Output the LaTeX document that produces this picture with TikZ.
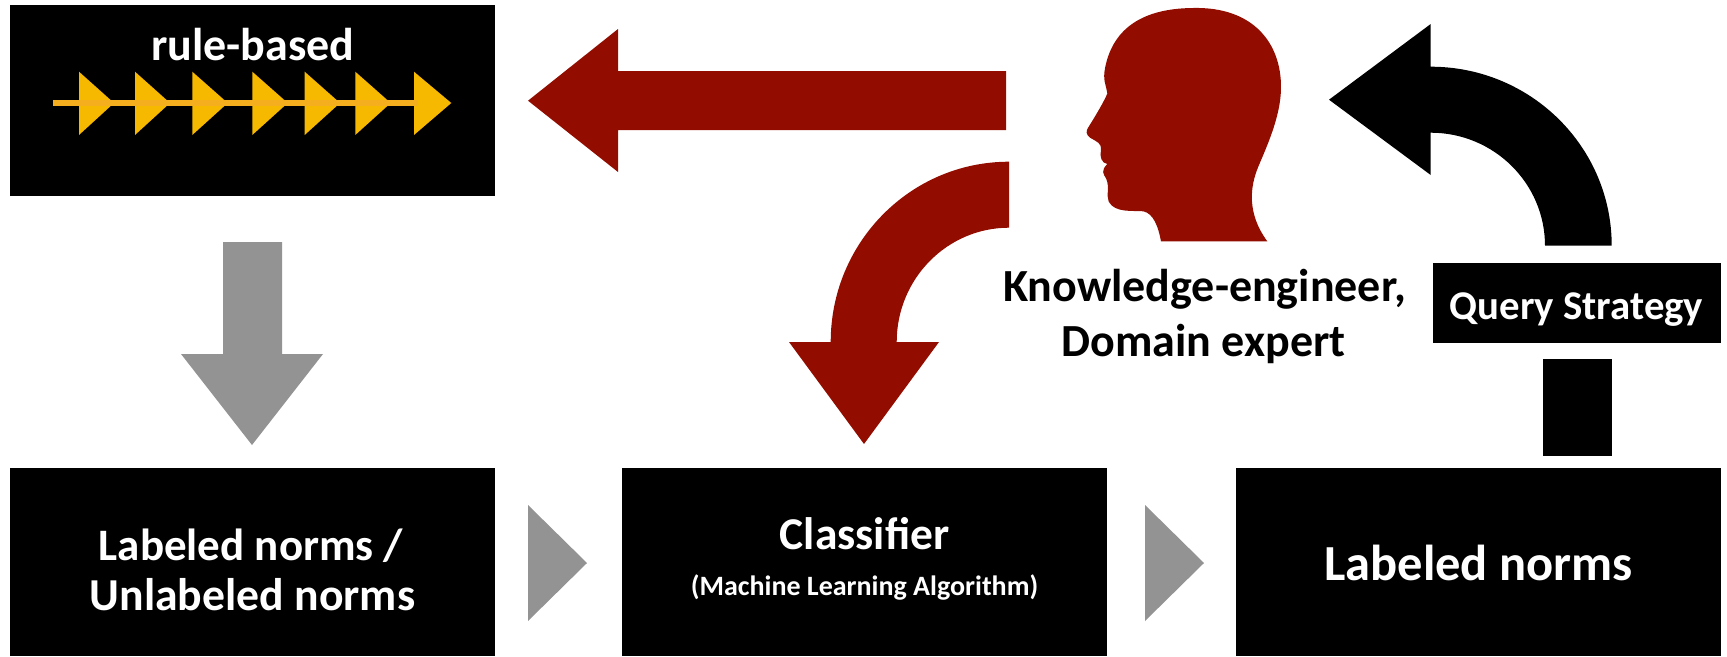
\documentclass[tikz,border=0pt]{standalone}
\usepackage{fontspec}
\setmainfont{Carlito}
\definecolor{expertred}{HTML}{920D00}
\definecolor{flowgrey}{HTML}{939393}
\definecolor{ruleamber}{HTML}{F7B900}
\definecolor{ruleline}{HTML}{F5AE1E}
\tikzset{
  blackbox/.style={fill=black,draw=none,inner sep=0pt,outer sep=0pt,anchor=north west},
  lbl/.style={anchor=base,inner sep=0pt,font=\bfseries\fontsize{#1}{#1}\selectfont},
  wlbl/.style={lbl=#1,text=white},
  ruletri/.style={fill=ruleamber},
}
\begin{document}
\begin{tikzpicture}[x=1pt,y=-1pt]
\useasboundingbox (0,0) rectangle (1727,656);
% boxes
\node[blackbox,minimum width=485pt,minimum height=191pt] (rule) at (10,5) {};
\node[blackbox,minimum width=485pt,minimum height=188pt] (input) at (10,468) {};
\node[blackbox,minimum width=485pt,minimum height=188pt] (clf) at (622,468) {};
\node[blackbox,minimum width=485pt,minimum height=188pt] (out) at (1236,468) {};
\node[blackbox,minimum width=288pt,minimum height=80pt] (query) at (1433,263) {};
% rule-based chain
\foreach \a/\b in {79/114,135/170,192.3/227.7,252.3/287.7,304.7/340,355.3/390.7,414/451.3}
  \fill[ruletri] (\a,71.7) -- (\b,103) -- (\a,135) -- cycle;
\coordinate (ls) at (53,103);
\coordinate (le) at (418,103);
\draw[ruleline,line width=5.5pt] (ls) -- (le);
% grey arrows
\fill[flowgrey] (223,242) -- (282,242) -- (282,354) -- (323,354) -- (252,445) -- (181,354) -- (223,354) -- cycle;
\fill[flowgrey] (528,505) -- (587,563) -- (528,621) -- cycle;
\fill[flowgrey] (1145,505) -- (1204,563) -- (1145,621) -- cycle;
% red straight arrow
\fill[expertred] (1006,71) -- (618,71) -- (618,29) -- (528,100.7) -- (618,172) -- (618,130) -- (1006,130) -- cycle;
% red curved arrow
\fill[expertred] (1009,161.7) .. controls (910.5,161.7) and (830.7,242.4) .. (830.7,342)
  -- (789,342) -- (864,444) -- (939,342) -- (896.7,342)
  .. controls (896.7,278.9) and (947,227.7) .. (1009,227.7) -- cycle;
% black curved arrow
\fill[black] (1611.7,245.7) .. controls (1611.7,146.8) and (1530.7,66.7) .. (1430.7,66.7)
  -- (1430.7,24) -- (1329,99.7) -- (1430.7,175) -- (1430.7,132.7)
  .. controls (1493.8,132.7) and (1545,183.3) .. (1545,245.7) -- cycle;
\fill[black] (1542.7,359) rectangle (1611.7,456);
% head
\begin{scope}[shift={(1040,0)},x=0.3333pt,y=-0.3333pt]
\fill[expertred] (363,724)
  .. controls (355,680) and (340,640) .. (310,634)
  .. controls (280,631) and (225,640) .. (206,605)
  .. controls (198,585) and (210,560) .. (198,535)
  .. controls (190,522) and (182,512) .. (202,492)
  .. controls (185,490) and (178,470) .. (183,450)
  .. controls (186,430) and (170,425) .. (150,413)
  .. controls (138,405) and (137,392) .. (145,382)
  .. controls (165,350) and (195,300) .. (202,280)
  .. controls (198,255) and (188,240) .. (195,205)
  .. controls (215,100) and (290,25) .. (460,24)
  .. controls (640,20) and (725,130) .. (723,265)
  .. controls (722,350) and (680,440) .. (655,500)
  .. controls (630,560) and (620,640) .. (682,724)
  -- cycle;
\end{scope}
% labels
\node[wlbl=46] (trule) at (253,60) {rule-based};
\node[wlbl=45] (t1a) at (251,560) {Labeled norms /};
\node[wlbl=45.7] (t1b) at (252.5,610.5) {Unlabeled norms};
\node[wlbl=45.5] (t2a) at (864.5,549) {Classifier};
\node[wlbl=28] (t2b) at (864.5,595) {(Machine Learning Algorithm)};
\node[wlbl=50.5] (t3) at (1478.5,580) {Labeled norms};
\node[wlbl=40.8] (tq) at (1576.5,319) {Query Strategy};
\node[lbl=46] (tk1) at (1204.5,301) {Knowledge-engineer,};
\node[lbl=46] (tk2) at (1203.5,356) {Domain expert};
\end{tikzpicture}
\end{document}
